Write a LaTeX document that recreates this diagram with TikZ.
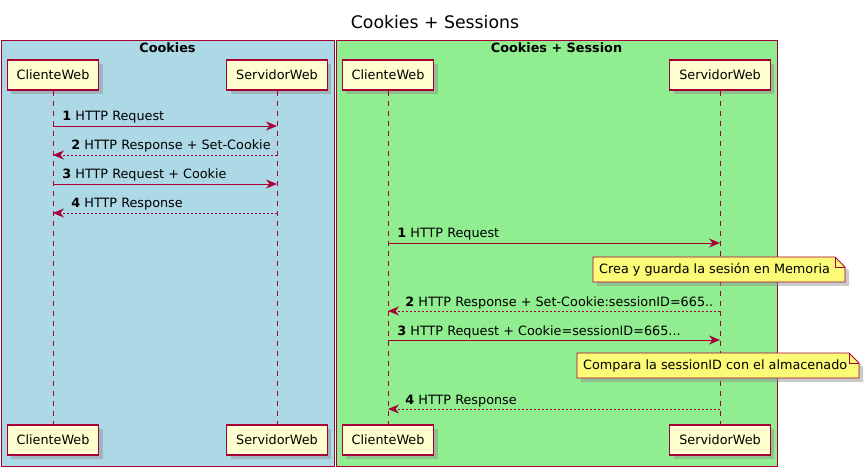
\documentclass[tikz,border=0pt]{standalone}
\usepackage{fontspec}
\setmainfont{DejaVu Sans}
\usetikzlibrary{arrows.meta}
\usetikzlibrary{shadows}
\definecolor{umlred}{HTML}{A80036}
\definecolor{actorfill}{HTML}{FEFECE}
\definecolor{notefill}{HTML}{FBFB77}
\definecolor{boxblue}{HTML}{ADD8E6}
\definecolor{boxgreen}{HTML}{90EE90}
\newcommand{\umlfont}{\fontsize{12.8}{15}\selectfont}
\tikzset{actor/.style={draw=umlred,fill=actorfill,line width=1.1pt,minimum height=30pt,inner xsep=9.5pt,font=\umlfont,
           drop shadow={shadow xshift=4pt,shadow yshift=-4pt,fill=black!45,opacity=.45}}}
\tikzset{lifeline/.style={umlred,line width=0.8pt,dash pattern=on 5pt off 5pt}}
\tikzset{req/.style={umlred,line width=0.9pt,-{Stealth[length=11pt,width=9pt,inset=3.5pt]}}}
\tikzset{resp/.style={req,dash pattern=on 2pt off 2pt}}
\tikzset{lbl/.style={inner sep=0pt,anchor=base west,yshift=5pt,font=\umlfont,text=black}}
\tikzset{grp/.style={draw=umlred,line width=1pt}}
\tikzset{grptitle/.style={inner sep=0pt,font=\umlfont\bfseries}}
\tikzset{notebox/.style={draw=umlred,fill=notefill,line width=0.8pt,
           drop shadow={shadow xshift=4pt,shadow yshift=-4pt,fill=black!45,opacity=.45}}}
\tikzset{notetext/.style={inner sep=0pt,anchor=west,font=\umlfont}}

\begin{document}
\begin{tikzpicture}[x=1pt,y=-1pt]
    \useasboundingbox (0,0) rectangle (867,470);

    \node[font=\fontsize{17.3}{20}\selectfont] (title) at (435,22) {Cookies + Sessions};

    % groups
    \draw[grp,fill=boxblue] (1,41) rectangle (334,466);
    \node[grptitle] (gA) at (167.5,48) {Cookies};
    \draw[grp,fill=boxgreen] (336,41) rectangle (777,466);
    \node[grptitle] (gB) at (556.5,48) {Cookies + Session};

    % participants
    \node[actor] (cwA) at (53,75) {ClienteWeb};
    \node[actor] (swA) at (277,75) {ServidorWeb};
    \node[actor] (cwAb) at (53,440) {ClienteWeb};
    \node[actor] (swAb) at (277,440) {ServidorWeb};
    \node[actor] (cwB) at (388,75) {ClienteWeb};
    \node[actor] (swB) at (720,75) {ServidorWeb};
    \node[actor] (cwBb) at (388,440) {ClienteWeb};
    \node[actor] (swBb) at (720,440) {ServidorWeb};

    \draw[lifeline] (cwA) -- (cwAb);
    \draw[lifeline] (swA) -- (swAb);
    \draw[lifeline] (cwB) -- (cwBb);
    \draw[lifeline] (swB) -- (swBb);

    \foreach \y [count=\i] in {126,155,184,213} {
        \coordinate (cA\i) at (53,\y);
        \coordinate (sA\i) at (277,\y);
    }
    \foreach \y [count=\i] in {243,311,340,409} {
        \coordinate (cB\i) at (388,\y);
        \coordinate (sB\i) at (720,\y);
    }

    % Cookies
    \draw[req] (cA1) -- (sA1) node[lbl,pos=0,xshift=9pt] {\textbf{1} HTTP Request};
    \draw[resp] (sA2) -- (cA2) node[lbl,pos=1,xshift=18pt] {\textbf{2} HTTP Response + Set-Cookie};
    \draw[req] (cA3) -- (sA3) node[lbl,pos=0,xshift=9pt] {\textbf{3} HTTP Request + Cookie};
    \draw[resp] (sA4) -- (cA4) node[lbl,pos=1,xshift=18pt] {\textbf{4} HTTP Response};

    % Cookies + Session
    \draw[req] (cB1) -- (sB1) node[lbl,pos=0,xshift=9pt] {\textbf{1} HTTP Request};
    \draw[notebox] (593,257) -- (835,257) -- (845,267) -- (845,282) -- (593,282) -- cycle;
    \draw[umlred,line width=0.8pt] (835,257) -- (835,267) -- (845,267);
    \node[notetext] (nt1) at (599,269.5) {Crea y guarda la sesión en Memoria};
    \draw[resp] (sB2) -- (cB2) node[lbl,pos=1,xshift=17pt] {\textbf{2} HTTP Response + Set-Cookie:sessionID=665..};
    \draw[req] (cB3) -- (sB3) node[lbl,pos=0,xshift=9pt] {\textbf{3} HTTP Request + Cookie=sessionID=665...};
    \draw[notebox] (577,353) -- (849,353) -- (859,363) -- (859,378) -- (577,378) -- cycle;
    \draw[umlred,line width=0.8pt] (849,353) -- (849,363) -- (859,363);
    \node[notetext] (nt2) at (583,365.5) {Compara la sessionID con el almacenado};
    \draw[resp] (sB4) -- (cB4) node[lbl,pos=1,xshift=17pt] {\textbf{4} HTTP Response};
\end{tikzpicture}
\end{document}
